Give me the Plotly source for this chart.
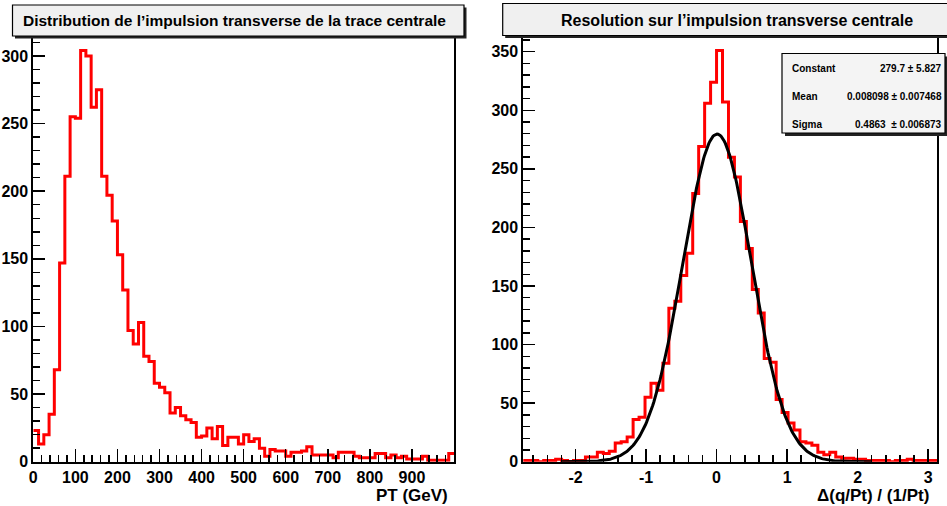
import numpy as np
import plotly.graph_objects as go

W, H = 947, 506

# ---------------- data ----------------
pt_bin_start = 0.0
pt_bin_width = 12.5
pt_counts = [23, 13, 20, 35, 68, 147, 211, 255, 254, 304,
             300, 262, 275, 211, 197, 178, 153, 127, 97, 87,
             103, 78, 74, 58, 55, 51, 36, 40, 34, 31,
             29, 18, 19, 25, 17, 26, 12, 18, 18, 13,
             20, 15, 17, 10, 4, 9, 8, 8, 4, 7,
             7, 8, 11, 5, 5, 5, 5, 3, 7, 7,
             7, 4, 3, 3, 3, 6, 6, 3, 5, 3,
             4, 2, 2, 2, 4, 1, 1, 1, 1, 6]

res_bin_start = -2.7885
res_bin_width = 0.0845
res_counts = [1, 1, 1, 0, 1, 1, 2, 1, 0, 1,
              1, 4, 4, 8, 7, 9, 16, 17, 21, 36,
              38, 55, 67, 61, 84, 131, 137, 159, 178, 229,
              269, 306, 324, 351, 307, 260, 243, 205, 182, 147,
              127, 88, 85, 53, 42, 33, 27, 17, 16, 14,
              8, 6, 8, 4, 3, 3, 2, 2, 1, 1,
              1, 1, 0, 1, 1, 2, 1, 1, 1, 1]

fit_constant = 279.7
fit_mean = 0.008098
fit_sigma = 0.4863
fit_range = [-2.2, 2.2]

stats_labels = ["Constant", "Mean", "Sigma"]
stats_values = ["279.7 \u00b1 5.827", "0.008098 \u00b1 0.007468", "0.4863  \u00b1 0.006873"]

left_title = "Distribution de l\u2019impulsion transverse de la trace centrale"
right_title = "Resolution sur l\u2019impulsion transverse centrale"
left_xtitle = "PT (GeV)"
right_xtitle = "\u0394(q/Pt) / (1/Pt)"

left_xticks = [0, 100, 200, 300, 400, 500, 600, 700, 800, 900]
left_yticks = [0, 50, 100, 150, 200, 250, 300]
right_xticks = [-2, -1, 0, 1, 2, 3]
right_yticks = [0, 50, 100, 150, 200, 250, 300, 350]

# ---------------- helpers ----------------
def step_xy(start, width, counts):
    xs = [start + i * width for i in range(len(counts) + 1)]
    ys = list(counts) + [counts[-1]]
    return xs, ys

def X(p):
    return p / W

def Y(p):
    return 1 - p / H

FONT = "Liberation Sans, Arial, Helvetica, sans-serif"

fig = go.Figure()

x1, y1 = step_xy(pt_bin_start, pt_bin_width, pt_counts)
fig.add_trace(go.Scatter(x=x1, y=y1, mode="lines", line=dict(shape="hv", color="#ff0000", width=3),
                         xaxis="x", yaxis="y", showlegend=False, hoverinfo="skip"))

x2, y2 = step_xy(res_bin_start, res_bin_width, res_counts)
fig.add_trace(go.Scatter(x=x2, y=y2, mode="lines", line=dict(shape="hv", color="#ff0000", width=3),
                         xaxis="x2", yaxis="y2", showlegend=False, hoverinfo="skip"))

fx = np.linspace(fit_range[0], fit_range[1], 300)
fy = fit_constant * np.exp(-0.5 * ((fx - fit_mean) / fit_sigma) ** 2)
fig.add_trace(go.Scatter(x=fx, y=fy, mode="lines", line=dict(color="black", width=3),
                         xaxis="x2", yaxis="y2", showlegend=False, hoverinfo="skip"))

ydom = [1 - 461.7 / H, 1 - 30 / H]
tickfont = dict(family=FONT, size=16, color="black", weight="bold")

common_axis = dict(showgrid=False, zeroline=False, showline=True, linecolor="black", linewidth=2,
                   ticks="inside", tickcolor="black", tickwidth=1.5, tickfont=tickfont,
                   mirror=True, fixedrange=True, automargin=False)

fig.update_layout(
    width=W, height=H, autosize=False,
    margin=dict(l=0, r=0, t=0, b=0, pad=0, autoexpand=False),
    paper_bgcolor="white", plot_bgcolor="white",
    xaxis=dict(common_axis, domain=[X(33.3), X(454)], range=[0, 1000], anchor="y",
               tickmode="array", tickvals=left_xticks, ticktext=[str(v) for v in left_xticks], ticklen=13,
               minor=dict(tick0=0, dtick=20, ticks="inside", ticklen=7, tickcolor="black", tickwidth=1.5)),
    yaxis=dict(common_axis, domain=ydom, range=[0, 1.05 * max(pt_counts)], anchor="x",
               tickmode="array", tickvals=left_yticks, ticktext=[str(v) for v in left_yticks], ticklen=12,
               minor=dict(tick0=0, dtick=10, ticks="inside", ticklen=7, tickcolor="black", tickwidth=1.5)),
    xaxis2=dict(common_axis, domain=[X(523.3), X(937.3)], range=[-2.74, 3.13], anchor="y2",
                tickmode="array", tickvals=right_xticks, ticktext=[str(v) for v in right_xticks], ticklen=13,
                minor=dict(tick0=0, dtick=0.2, ticks="inside", ticklen=7, tickcolor="black", tickwidth=1.5)),
    yaxis2=dict(common_axis, domain=ydom, range=[0, 1.05 * max(res_counts)], anchor="x2",
                tickmode="array", tickvals=right_yticks, ticktext=[str(v) for v in right_yticks], ticklen=12,
                minor=dict(tick0=0, dtick=10, ticks="inside", ticklen=7, tickcolor="black", tickwidth=1.5)),
)

shapes = []
def box(x0, y0, x1_, y1_, fill, sh=3):
    shapes.append(dict(type="rect", xref="paper", yref="paper", x0=X(x0 + sh), x1=X(x1_ + sh),
                       y0=Y(y1_ + sh), y1=Y(y0 + sh), fillcolor="#222222", line=dict(width=0), layer="above"))
    shapes.append(dict(type="rect", xref="paper", yref="paper", x0=X(x0), x1=X(x1_),
                       y0=Y(y1_), y1=Y(y0), fillcolor=fill, line=dict(color="black", width=1.2), layer="above"))

box(12.5, 5, 464, 36, "#f0f0f0", sh=2.5)
box(502.7, 3.5, 980, 35.5, "#f0f0f0", sh=2.5)
box(782, 53.5, 945, 133, "#f4f4f4", sh=3)
fig.update_layout(shapes=shapes)

ann = []
ann.append(dict(text=left_title, x=X(234), y=Y(21), xref="paper", yref="paper", showarrow=False,
                xanchor="center", yanchor="middle", font=dict(family=FONT, size=15.5, color="black", weight="bold")))
ann.append(dict(text=right_title, x=X(737.3), y=Y(21), xref="paper", yref="paper", showarrow=False,
                xanchor="center", yanchor="middle", font=dict(family=FONT, size=16, color="black", weight="bold")))
ann.append(dict(text=left_xtitle, x=X(450), y=Y(495), xref="paper", yref="paper", showarrow=False,
                xanchor="right", yanchor="middle", font=dict(family=FONT, size=17, color="black", weight="bold")))
ann.append(dict(text=right_xtitle, x=X(931), y=Y(495), xref="paper", yref="paper", showarrow=False,
                xanchor="right", yanchor="middle", font=dict(family=FONT, size=17, color="black", weight="bold")))
row_y = [68.3, 96.8, 124.3]
for lab, val, ry in zip(stats_labels, stats_values, row_y):
    ann.append(dict(text=lab, x=X(790), y=Y(ry), xref="paper", yref="paper", showarrow=False,
                    xanchor="left", yanchor="middle", font=dict(family=FONT, size=10, color="black", weight="bold")))
    ann.append(dict(text=val, x=X(944), y=Y(ry), xref="paper", yref="paper", showarrow=False,
                    xanchor="right", yanchor="middle", font=dict(family=FONT, size=10, color="black", weight="bold")))
fig.update_layout(annotations=ann)

fig.write_html("out.html", config={"displayModeBar": False, "staticPlot": True})

with open("out.html", "r", encoding="utf-8") as f:
    html = f.read()
html = html.replace("<head>", "<head><style>html,body{margin:0;padding:0;overflow:hidden;}</style>", 1)
with open("out.html", "w", encoding="utf-8") as f:
    f.write(html)
